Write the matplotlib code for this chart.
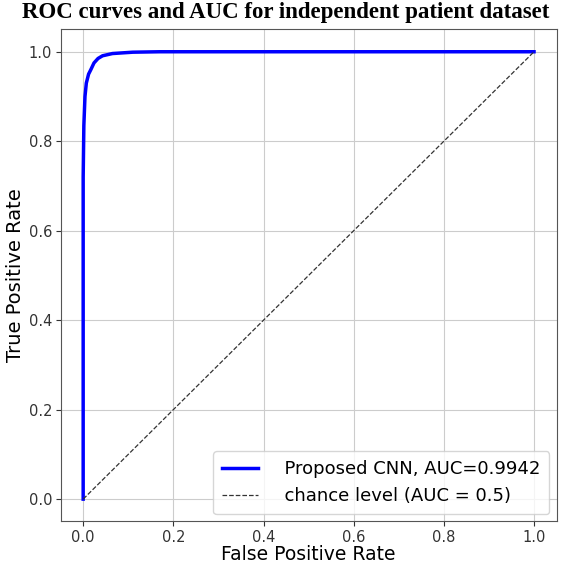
import matplotlib.pyplot as plt

# ROC curve points
fpr = [0.0, 0.0, 0.0015, 0.004, 0.007, 0.012, 0.017, 0.024, 0.033, 0.043, 0.065, 0.11, 0.17, 0.4, 1.0]
tpr = [0.0, 0.72, 0.835, 0.9, 0.93, 0.95, 0.96, 0.975, 0.985, 0.991, 0.996, 0.999, 1.0, 1.0, 1.0]
chance = [0.0, 1.0]

fig = plt.figure(figsize=(5.72, 5.65), dpi=100)
ax = fig.add_axes([0.106, 0.077, 0.867, 0.871])

ax.plot(fpr, tpr, color="blue", lw=2.5, label="  Proposed CNN, AUC=0.9942")
ax.plot(chance, chance, color="#333333", lw=0.9, ls="--", label="  chance level (AUC = 0.5)")

ax.set_xlim(-0.05, 1.05)
ax.set_ylim(-0.05, 1.05)
ax.set_xticks([0, 0.2, 0.4, 0.6, 0.8, 1.0])
ax.set_yticks([0, 0.2, 0.4, 0.6, 0.8, 1.0])
ax.tick_params(labelsize=10.5, colors="#333333", pad=2.5)
for s in ax.spines.values():
    s.set_color("#555555")
ax.grid(True, color="#cccccc", lw=0.8)
ax.set_xlabel("False Positive Rate", fontsize=13.5, labelpad=0)
ax.set_ylabel("True Positive Rate", fontsize=14, labelpad=3)
fig.suptitle("ROC curves and AUC for independent patient dataset",
             x=0.5, y=0.997, fontsize=16.5, fontweight="bold", family="Liberation Serif")
ax.legend(loc="lower right", fontsize=13, handlelength=2.0, borderaxespad=0.4,
          borderpad=0.5)

fig.savefig("out.png", dpi=100)
